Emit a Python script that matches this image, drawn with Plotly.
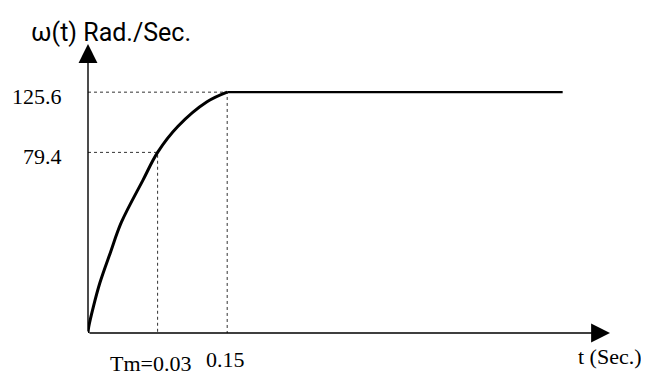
import plotly.graph_objects as go

# ---- data (schematic drawing units; the sketch is not to scale) ----
curve_t = [0, 0.01, 0.076, 0.17, 0.32, 0.48, 0.79, 1.0, 1.29, 1.71, 2.0]
curve_w = [0, 0.10, 0.43, 0.83, 1.33, 1.84, 2.54, 3.0, 3.43, 3.84, 4.0]
flat_t = [2.0, 6.82]
flat_w = [4.0, 4.0]

x_tick_pos = [1, 2]
x_tick_text = ["Tm=0.03", "0.15"]
y_tick_pos = [3, 4]
y_tick_text = ["79.4", "125.6"]

x_axis_end = 7.5
y_axis_end = 4.8

y_title = "ω(t) Rad./Sec."
x_title = "t (Sec.)"

SERIF = "Liberation Serif, Times New Roman, serif"
SANS = "Roboto, Liberation Sans, Arial, sans-serif"

fig = go.Figure()

# dotted guide lines
for xp, yp in zip(x_tick_pos, y_tick_pos):
    fig.add_trace(go.Scatter(x=[0, xp, xp], y=[yp, yp, 0], mode="lines",
                             line=dict(color="#333333", width=1, dash="dot"),
                             hoverinfo="skip", showlegend=False))

# response curve
fig.add_trace(go.Scatter(x=curve_t, y=curve_w, mode="lines",
                         line=dict(color="black", width=3, shape="spline", smoothing=1.0),
                         showlegend=False))
fig.add_trace(go.Scatter(x=flat_t, y=flat_w, mode="lines",
                         line=dict(color="black", width=2.2),
                         showlegend=False))

annotations = []
# axes with arrow heads
for tip_x, tip_y in [(x_axis_end, 0), (0, y_axis_end)]:
    annotations.append(dict(x=tip_x, y=tip_y, ax=0, ay=0, xref="x", yref="y", axref="x", ayref="y",
                            text="", showarrow=True, arrowhead=2, arrowsize=2.7, arrowwidth=1.4,
                            arrowcolor="black"))

# tick labels
x_shifts = [-7, -2]
y_shifts = [-30, -26]
for xp, txt, xs, ys in zip(x_tick_pos, x_tick_text, x_shifts, y_shifts):
    annotations.append(dict(x=xp, y=0, xref="x", yref="y", text=txt, showarrow=False,
                            xanchor="center", yanchor="middle", xshift=xs, yshift=ys,
                            font=dict(family=SERIF, size=22, color="black")))
for yp, txt in zip(y_tick_pos, y_tick_text):
    annotations.append(dict(x=0, y=yp, xref="x", yref="y", text=txt, showarrow=False,
                            xanchor="right", yanchor="middle", xshift=-24, yshift=-4,
                            font=dict(family=SERIF, size=22, color="black")))

# axis titles
annotations.append(dict(x=0, y=y_axis_end, xref="x", yref="y", text=y_title, showarrow=False,
                        xanchor="left", yanchor="middle", xshift=-59, yshift=12,
                        font=dict(family=SANS, size=25, color="black")))
annotations.append(dict(x=x_axis_end, y=0, xref="x", yref="y", text=x_title, showarrow=False,
                        xanchor="center", yanchor="middle", xshift=0, yshift=-23,
                        font=dict(family=SERIF, size=22, color="black")))

# the page body has an 8px margin, so the figure is sized/offset to fit the 649x375 window
fig.update_layout(
    width=641, height=367,
    margin=dict(l=80, r=39, t=36, b=42),
    paper_bgcolor="white", plot_bgcolor="white",
    xaxis=dict(range=[0, x_axis_end], showgrid=False, zeroline=False, showline=False,
               showticklabels=False, ticks=""),
    yaxis=dict(range=[0, y_axis_end], showgrid=False, zeroline=False, showline=False,
               showticklabels=False, ticks=""),
    annotations=annotations,
    showlegend=False,
)

fig.write_html("out.html")
